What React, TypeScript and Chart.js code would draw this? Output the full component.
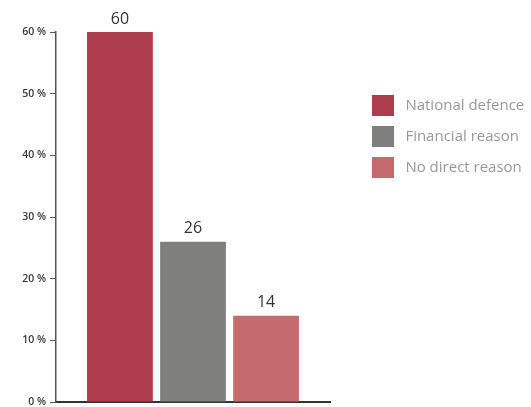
import React, { useEffect, useRef } from "react";
import { Chart, registerables } from "chart.js";

Chart.register(...registerables);

const categories = [""];
const seriesNames = ["National defence", "Financial reason", "No direct reason"];
const nationalDefence = [60];
const financialReason = [26];
const noDirectReason = [14];
const seriesColors = ["#AD3C4C", "#7F7F7E", "#C56B6E"];
const yTicks = [0, 10, 20, 30, 40, 50, 60];

const valueLabels = {
  id: "valueLabels",
  afterDatasetsDraw(chart: any) {
    const ctx = chart.ctx;
    ctx.save();
    ctx.font = "16px 'Open Sans', sans-serif";
    ctx.fillStyle = "#333333";
    ctx.textAlign = "center";
    ctx.textBaseline = "alphabetic";
    chart.data.datasets.forEach((ds: any, i: number) => {
      const meta = chart.getDatasetMeta(i);
      meta.data.forEach((el: any, j: number) => {
        ctx.fillText(String(ds.data[j]), el.x, el.y - 8.5);
      });
    });
    ctx.restore();
  },
};

export default function App() {
  const ref = useRef<HTMLCanvasElement | null>(null);

  useEffect(() => {
    if (!ref.current) return;
    Chart.defaults.font.family = "'Open Sans', sans-serif";
    const seriesData = [nationalDefence, financialReason, noDirectReason];
    const chart = new Chart(ref.current, {
      type: "bar",
      data: {
        labels: categories,
        datasets: seriesNames.map((name, i) => ({
          label: name,
          data: seriesData[i],
          backgroundColor: seriesColors[i],
          borderWidth: 0,
          categoryPercentage: 0.8,
          barPercentage: 0.9,
        })),
      },
      options: {
        responsive: false,
        animation: false,
        layout: { padding: { top: 32, bottom: 0, left: 0, right: 0 } },
        scales: {
          x: {
            grid: { display: false },
            ticks: { display: false },
            border: { display: true, color: "#333333", width: 2 },
            afterFit: (s: any) => {
              s.height = 5;
            },
          },
          y: {
            min: 0,
            max: 60,
            afterBuildTicks: (s: any) => {
              s.ticks = yTicks.map((v) => ({ value: v }));
            },
            grid: {
              display: true,
              drawOnChartArea: false,
              drawTicks: true,
              tickLength: 6,
              color: "#555555",
              lineWidth: 1,
            },
            border: { display: true, color: "#555555", width: 1.5 },
            ticks: {
              padding: 4,
              color: "#3a3a3a",
              font: { size: 10.5, weight: "600", lineHeight: 1 },
              callback: (v: any) => `${v} %`,
            },
            afterFit: (s: any) => {
              s.width = 56;
              s.paddingTop = 5;
              s.paddingBottom = 5;
            },
          },
          y2: {
            type: "linear",
            position: "right",
            display: true,
            grid: { display: false },
            border: { display: false },
            ticks: { display: false },
            afterFit: (s: any) => {
              s.width = 32;
            },
          },
        },
        plugins: {
          tooltip: { enabled: false },
          legend: {
            position: "right",
            align: "start",
            maxWidth: 169,
            title: {
              display: true,
              text: "",
              font: { size: 13, lineHeight: 1 },
              padding: 20,
            },
            labels: {
              boxWidth: 22,
              boxHeight: 21,
              padding: 10,
              color: "#999999",
              font: { size: 15 },
              generateLabels: (c: any) =>
                (Chart.defaults.plugins.legend.labels as any)
                  .generateLabels(c)
                  .map((l: any) => ({ ...l, text: " " + l.text })),
            },
          },
        },
      } as any,
      plugins: [valueLabels],
    });
    return () => chart.destroy();
  }, []);

  return (
    <div
      style={{
        position: "fixed",
        left: 0,
        top: 0,
        width: 531,
        height: 407,
        overflow: "hidden",
        background: "#ffffff",
      }}
    >
      <canvas ref={ref} width={531} height={407} style={{ display: "block" }} />
    </div>
  );
}
